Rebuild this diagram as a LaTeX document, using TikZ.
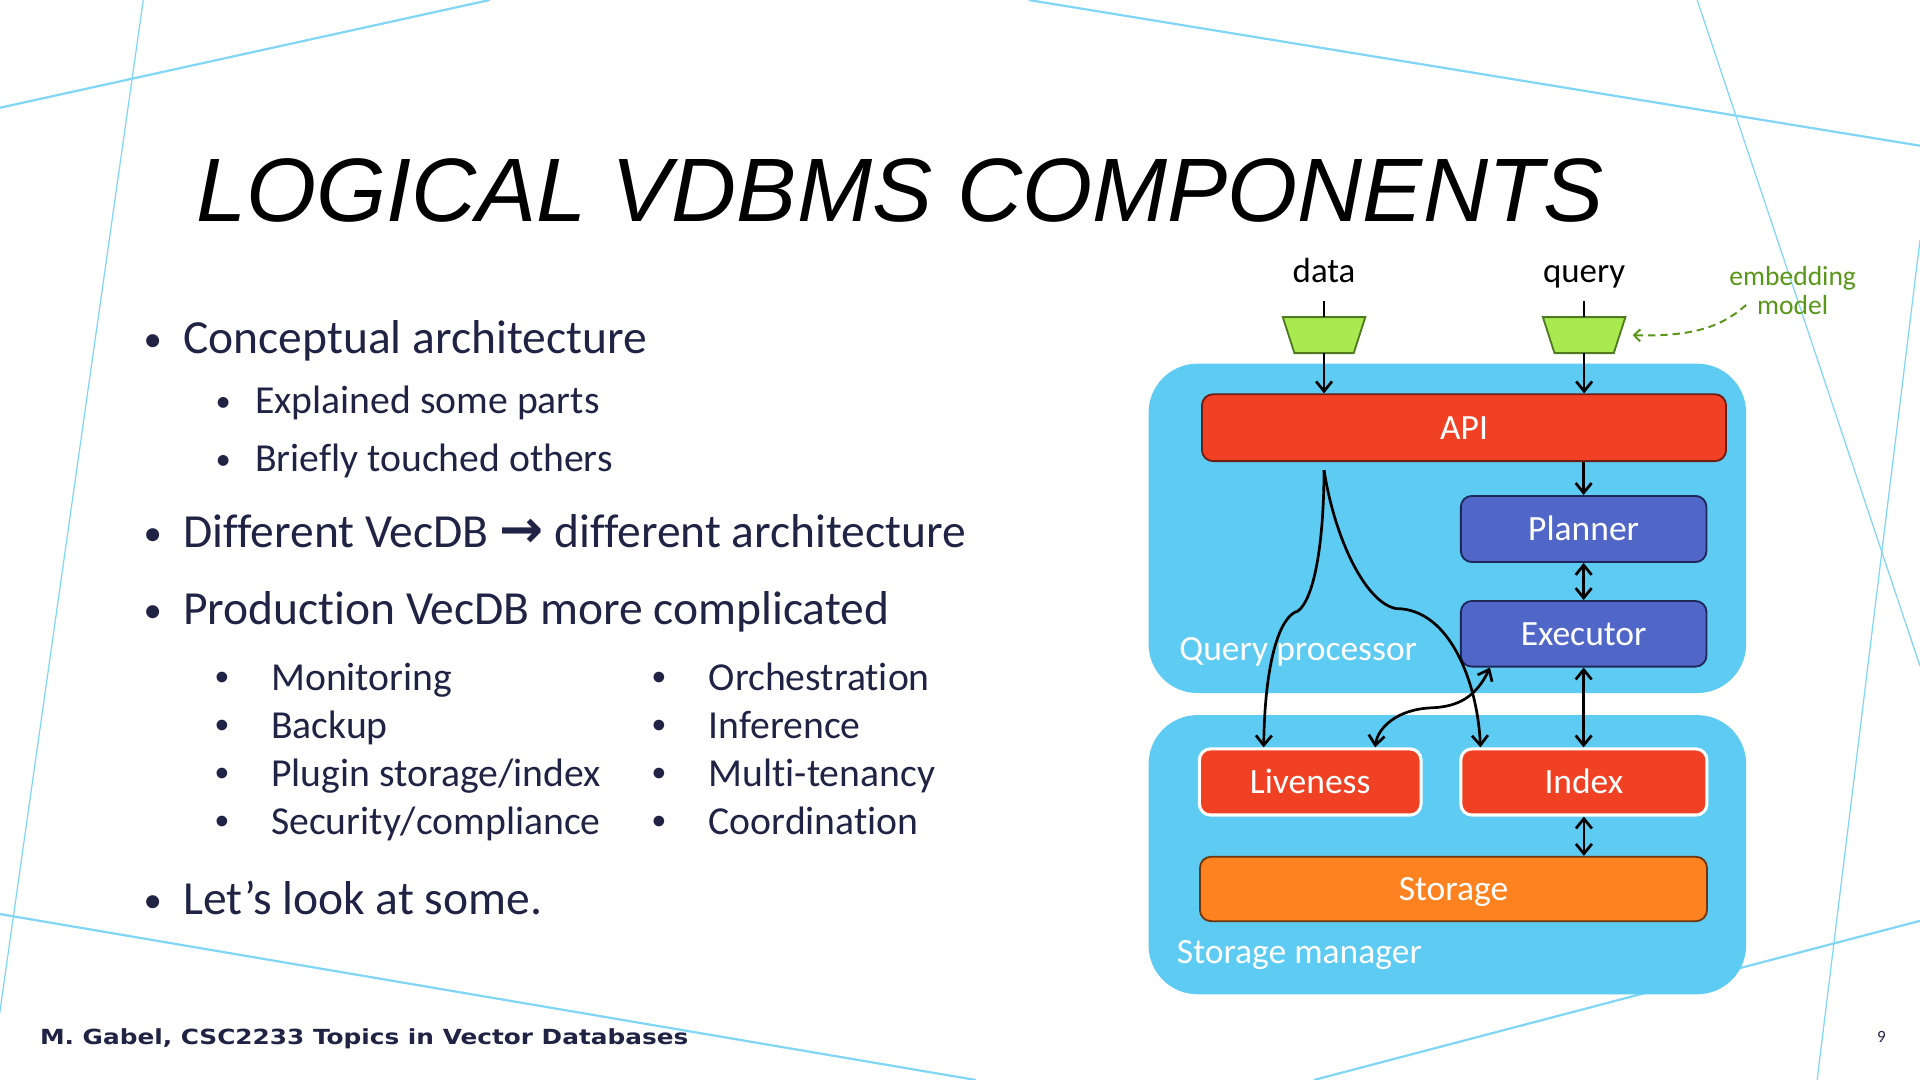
\documentclass[tikz,border=0pt]{standalone}
\usepackage{fontspec}
\setmainfont{Carlito}[Ligatures=NoCommon]
\newfontfamily\titlefont{Liberation Sans}
\newfontfamily\footfont{DejaVu Sans}
\newfontfamily\bulfont{Liberation Sans}
\usetikzlibrary{arrows.meta,calc}
\definecolor{bgline}{RGB}{130,214,245}
\definecolor{navy}{RGB}{32,35,68}
\definecolor{procblue}{RGB}{94,203,242}
\definecolor{apired}{RGB}{240,65,36}
\definecolor{apiborder}{RGB}{110,30,18}
\definecolor{plblue}{RGB}{80,103,200}
\definecolor{plborder}{RGB}{30,40,90}
\definecolor{storor}{RGB}{255,130,32}
\definecolor{storborder}{RGB}{110,55,15}
\definecolor{trapgreen}{RGB}{168,234,80}
\definecolor{trapborder}{RGB}{80,122,32}
\definecolor{embgreen}{RGB}{90,150,25}
\tikzset{
  bgthick/.style={draw=bgline, line width=1.8pt},
  bgthin/.style={draw=bgline, line width=1pt},
  container/.style={fill=procblue, rounded corners=40pt, inner sep=0, draw=none},
  comp/.style={rounded corners=9pt, inner sep=0, text=white, line width=1.5pt,
    text height=18.7pt, text depth=0pt, font=\fontsize{29}{34}\selectfont},
  redbox/.style={comp, fill=apired, draw=apiborder},
  redwhite/.style={comp, fill=apired, draw=white, line width=2.5pt},
  bluebox/.style={comp, fill=plblue, draw=plborder},
  orbox/.style={comp, fill=storor, draw=storborder},
  trapholder/.style={minimum width=67pt, minimum height=29pt, inner sep=0},
  trap/.style={fill=trapgreen, draw=trapborder, line width=1.5pt},
  lbl/.style={anchor=base, inner sep=0, font=\fontsize{28.5}{34}\selectfont},
  grouplbl/.style={anchor=base west, inner sep=0, text=white, font=\fontsize{29}{34}\selectfont},
  arr/.style={line width=2.2pt, -{Straight Barb[length=8pt,width=13pt]}},
  darr/.style={line width=2.2pt, {Straight Barb[length=8pt,width=13pt]}-{Straight Barb[length=8pt,width=13pt]}},
  dasharr/.style={draw=embgreen, line width=1.6pt, dash pattern=on 6pt off 4pt, -{Straight Barb[length=5pt,width=10pt]}},
  bigtxt/.style={anchor=base west, inner sep=0, text=navy, font=\fontsize{38.8}{46}\selectfont},
  midtxt/.style={anchor=base west, inner sep=0, text=navy, font=\fontsize{32.4}{40}\selectfont},
  bigbul/.style={anchor=base, inner sep=0, text=navy, font=\fontsize{30}{36}\selectfont},
  midbul/.style={anchor=base, inner sep=0, text=navy, font=\fontsize{25}{30}\selectfont},
  colbul/.style={anchor=base, inner sep=0, text=navy, font=\bulfont\fontsize{32}{40}\selectfont},
}
\begin{document}
\begin{tikzpicture}[x=1pt,y=-1pt]
\useasboundingbox (0,0) rectangle (1568,882);
\clip (0,0) rectangle (1568,882);
\fill[white] (0,0) rectangle (1568,882);
% background lines
\draw[bgthick] (0,88) -- (400,0);
\draw[bgthin] (117,0) -- (-8,882);
\draw[bgthick] (840,0) -- (1568,119);
\draw[bgthin] (1386,0) -- (1568,544);
\draw[bgthin] (1568,196) -- (1484,882);
\draw[bgthick] (0,746.5) -- (797,882);
\draw[bgthick] (1073,882) -- (1568,752);

% title
\node[anchor=base west, inner sep=0, font=\titlefont\itshape\fontsize{73.6}{80}\selectfont] (title) at (160,181) {LOGICAL VDBMS COMPONENTS};

% bullets
\node[bigbul] (b1) at (124.8,287) {•};
\node[bigtxt] (t1) at (149.6,289) {Conceptual architecture};
\node[midbul] (b2) at (182.4,336) {•};
\node[midtxt] (t2) at (208.3,337.5) {Explained some parts};
\node[midbul] (b3) at (182.4,383.5) {•};
\node[midtxt] (t3) at (208.3,385) {Briefly touched others};
\node[bigbul] (b4) at (124.8,445.3) {•};
\node[bigtxt] (t4) at (149.6,447.3) {Different VecDB {\footfont\bfseries\fontsize{43}{46}\selectfont →} different architecture};
\node[bigbul] (b5) at (124.8,508.4) {•};
\node[bigtxt] (t5) at (149.6,510.4) {Production VecDB more complicated};
\foreach \yy/\ta/\tb [count=\i] in {563.5/Monitoring/Orchestration, 602.7/Backup/Inference, 641.9/Plugin storage\slash index/Multi-tenancy, 681.1/Security\slash compliance/Coordination}{
  \node[colbul] (cba\i) at (181.5,\yy) {•};
  \node[midtxt] (cta\i) at (221.3,\yy) {\ta};
  \node[colbul] (cbb\i) at (538.7,\yy) {•};
  \node[midtxt] (ctb\i) at (578.6,\yy) {\tb};
}
\node[bigbul] (b6) at (124.8,745) {•};
\node[bigtxt] (t6) at (149.6,747) {Let’s look at some.};

% footer
\node[anchor=base west, inner sep=0, text=navy, font=\footfont\bfseries\fontsize{17}{20}\selectfont] (foot) at (32.5,853.4) {\scalebox{1.19}[1]{M. Gabel, CSC2233 Topics in Vector Databases}};
\node[anchor=base, inner sep=0, text=navy, font=\fontsize{14}{16}\selectfont] (pnum) at (1536.5,851) {9};

% containers
\node[container, minimum width=488pt, minimum height=269pt] (qp) at (1182,431.5) {};
\node[container, minimum width=488pt, minimum height=228pt] (sm) at (1182,698) {};
\node[grouplbl] (qplbl) at (963,539) {Query processor};
\node[grouplbl] (smlbl) at (961,787) {Storage manager};

% components
\node[redbox, minimum width=428pt, minimum height=54.6pt] (api) at (1195.6,349.3) {API};
\node[bluebox, minimum width=200.6pt, minimum height=54pt] (planner) at (1293.3,432) {Planner};
\node[bluebox, minimum width=200.6pt, minimum height=53.6pt] (exec) at (1293.3,517.6) {Executor};
\node[redwhite, minimum width=181pt, minimum height=54pt] (live) at (1070,638.6) {Liveness};
\node[redwhite, minimum width=201pt, minimum height=54pt] (index) at (1293.5,638.6) {Index};
\node[orbox, minimum width=414pt, minimum height=52.6pt] (storage) at (1187,726) {Storage};

% inputs
\node[lbl] (dlbl) at (1081.3,231) {data};
\node[lbl] (qlbl) at (1293.7,231) {query};
\node[trapholder] (tdata) at (1081.3,273.7) {};
\node[trapholder] (tquery) at (1293.7,273.7) {};
\foreach \t in {tdata,tquery}{
  \draw[trap] (\t.north west) -- (\t.north east) -- ([xshift=-9.5pt]\t.south east) -- ([xshift=9.5pt]\t.south west) -- cycle;
}
\coordinate (dtop) at (1081.3,246);
\coordinate (qtop) at (1293.7,246);
\draw[line width=2.2pt] (dtop) -- (tdata.north);
\draw[line width=2.2pt] (qtop) -- (tquery.north);
\draw[arr] (tdata.south) -- (tdata.south |- api.north);
\draw[arr] (tquery.south) -- (tquery.south |- api.north);

% embedding model
\node[anchor=base, inner sep=0, text=embgreen, font=\fontsize{22.5}{26}\selectfont] (emb1) at (1464,232.8) {embedding};
\node[anchor=base, inner sep=0, text=embgreen, font=\fontsize{22.5}{26}\selectfont] (emb2) at (1464,257) {model};
\coordinate (embstart) at (1426,249);
\draw[dasharr] (embstart) .. controls (1405,268) and (1380,275) .. ([xshift=6pt]tquery.east);

% query path
\draw[arr] (api.south -| planner.north) -- (planner.north);
\draw[darr] (planner.south) -- (exec.north);
\draw[darr] (exec.south) -- (exec.south |- index.north);
\draw[darr] (index.south) -- (index.south |- storage.north);

% data paths
\coordinate (dsplit) at (1081.3,384);
\draw[arr] (dsplit) .. controls (1081,450) and (1072,490) .. (1060,499)
  .. controls (1045,503) and (1033,540) .. ([xshift=-38pt]live.north);
\draw[arr] (dsplit) .. controls (1090,440) and (1115,492) .. (1140,497)
  .. controls (1185,497) and (1207,560) .. ([xshift=-84.5pt]index.north);
\draw[darr] ([xshift=-76.5pt]exec.south) .. controls (1205,570) and (1190,577) .. (1170,578)
  .. controls (1140,579) and (1125,595) .. ([xshift=53pt]live.north);
\end{tikzpicture}
\end{document}
